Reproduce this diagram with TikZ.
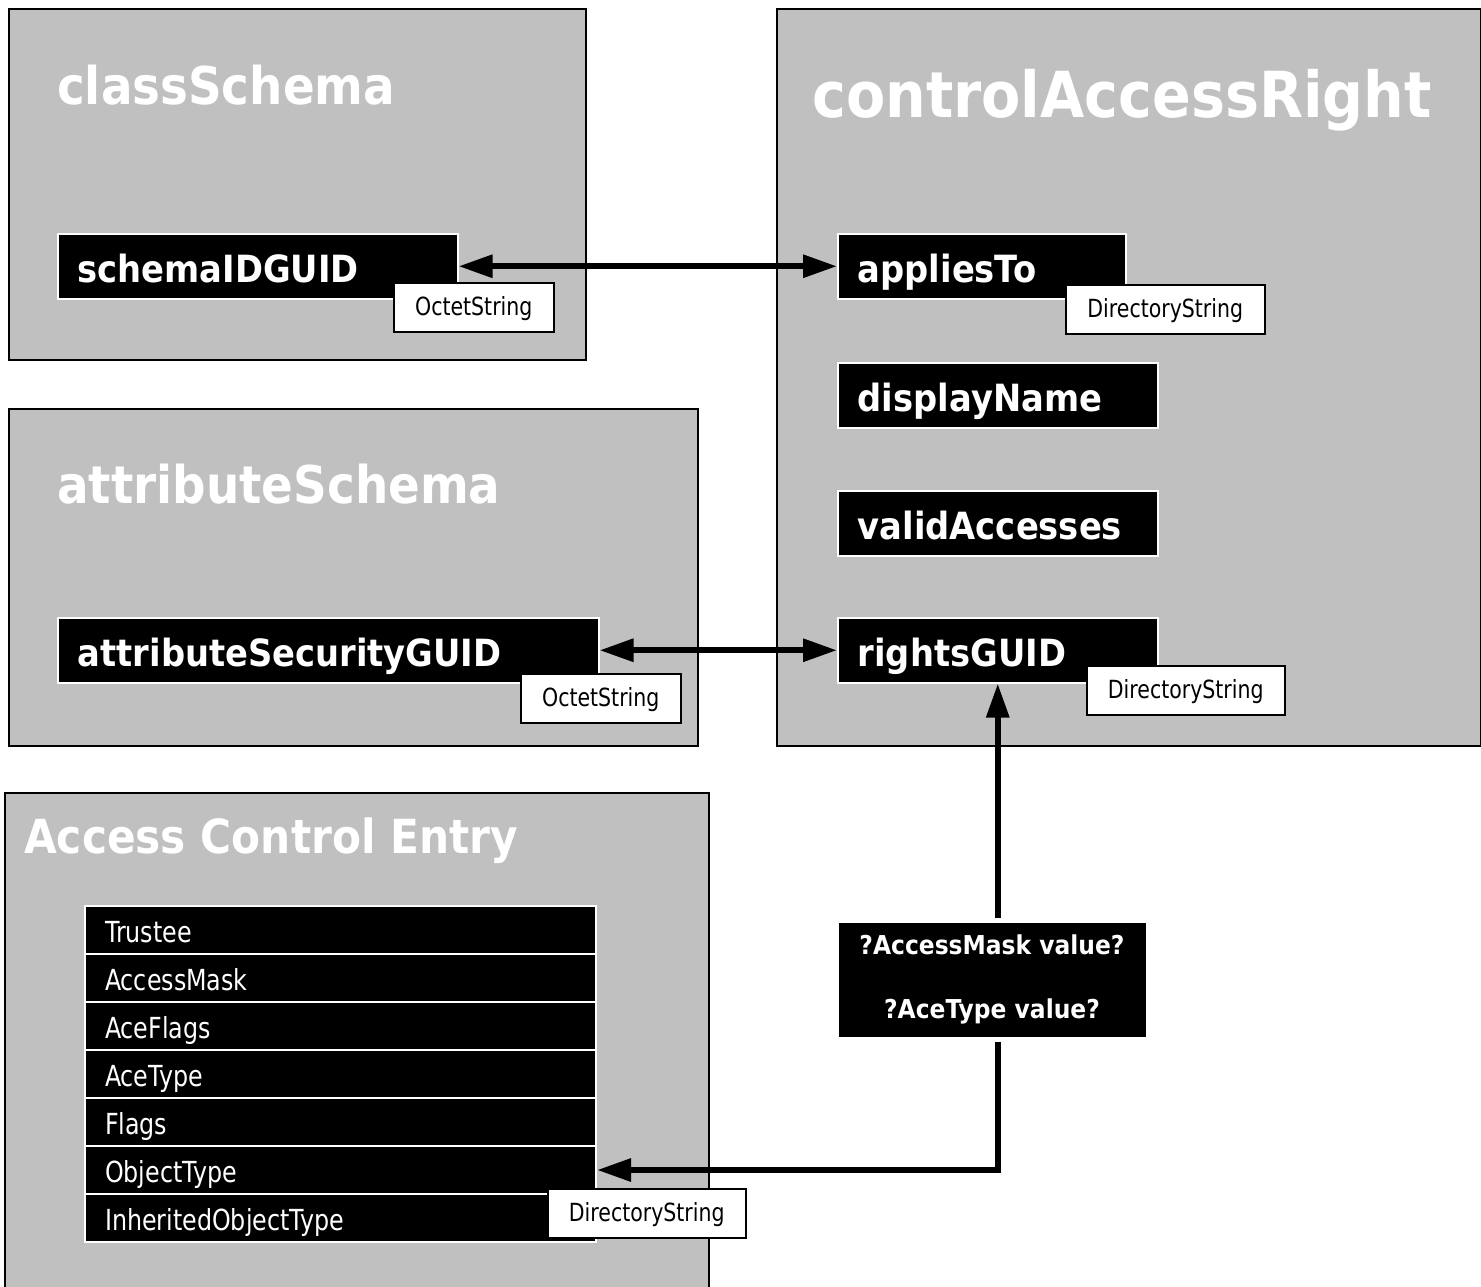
\documentclass[tikz,border=0pt]{standalone}
\usepackage{fontspec}
\setmainfont{DejaVu Sans}[FakeStretch=0.9]
\newfontfamily\tagfont{DejaVu Sans}[FakeStretch=0.82]
\usetikzlibrary{arrows.meta}
\definecolor{panelgray}{HTML}{C0C0C0}

\begin{document}
\begin{tikzpicture}[x=1pt, y=-1pt,
    panel/.style={draw=black, line width=2pt, fill=panelgray, anchor=north west, inner sep=0pt},
    title/.style={text=white, anchor=base west, inner sep=0pt, font=\bfseries\fontsize{52}{60}\selectfont},
    field/.style={draw=white, line width=1.5pt, fill=black, text=white, anchor=north west,
                  minimum height=65pt, inner xsep=20pt, inner ysep=0pt, align=left,
                  text height=41pt, text depth=8pt, font=\bfseries\fontsize{37.5}{44}\selectfont},
    tag/.style={draw=black, line width=1.5pt, fill=white, anchor=north west, minimum height=49pt,
                inner sep=0pt, text height=21pt, text depth=5pt, font=\tagfont\fontsize{25}{30}\selectfont},
    row/.style={draw=white, line width=2pt, fill=black, text=white, anchor=north west,
                minimum height=48pt, text width=471pt, inner xsep=20pt, inner ysep=0pt, align=left,
                text height=29pt, text depth=4pt, font=\tagfont\fontsize{29}{34}\selectfont},
    link/.style={line width=6pt, -{Triangle[length=34pt,width=22pt]}},
    both/.style={line width=6pt, {Triangle[length=34pt,width=22pt]}-{Triangle[length=34pt,width=22pt]}}]

    \useasboundingbox (0,0) rectangle (1481,1286);

    % panels
    \node[panel, minimum width=577pt, minimum height=351pt] (classPanel) at (8,8) {};
    \node[panel, minimum width=704pt, minimum height=737pt] (carPanel)   at (776,8) {};
    \node[panel, minimum width=689pt, minimum height=337pt] (attrPanel)  at (8,408) {};
    \node[panel, minimum width=704pt, minimum height=520pt] (acePanel)   at (4,792) {};

    \node[title] (classTitle) at (57,104) {classSchema};
    \node[title, font=\bfseries\fontsize{63.5}{70}\selectfont] (carTitle) at (812,117) {controlAccessRight};
    \node[title] (attrTitle)  at (57,503) {attributeSchema};
    \node[title, font=\bfseries\fontsize{47}{54}\selectfont] (aceTitle) at (24,853) {Access Control Entry};

    % attributes
    \node[field, text width=360pt] (schemaIDGUID) at (57,233)  {schemaIDGUID};
    \node[field, text width=248pt] (appliesTo)    at (837,233) {appliesTo};
    \node[field, text width=280pt] (displayName)  at (837,362) {displayName};
    \node[field, text width=280pt] (validAccesses) at (837,490) {validAccesses};
    \node[field, text width=280pt] (rightsGUID)   at (837,617) {rightsGUID};
    \node[field, text width=501pt] (attrGUID)     at (57,617)  {attributeSecurityGUID};

    \foreach \name [count=\i from 0] in {Trustee, AccessMask, AceFlags, AceType,
        Flags, ObjectType, InheritedObjectType}
      \node[row] (\name) at (84,905+48*\i) {\name};

    % syntaxes
    \node[tag, minimum width=160pt] (classOctet) at (393,282)  {OctetString};
    \node[tag, minimum width=199pt] (appliesDir) at (1065,284) {DirectoryString};
    \node[tag, minimum width=198pt] (rightsDir)  at (1086,665) {DirectoryString};
    \node[tag, minimum width=160pt] (attrOctet)  at (520,673)  {OctetString};
    \node[tag, minimum width=198pt] (aceDir)     at (547,1188) {DirectoryString};

    \node[draw=white, line width=1pt, fill=black, text=white, minimum width=308pt, minimum height=115pt,
          align=center, font=\bfseries\fontsize{26}{64}\selectfont] (maskBox) at (992,979.5)
          {\raisebox{-3pt}{?AccessMask value?}\\\raisebox{-3pt}{?AceType value?}};

    \draw[both] (schemaIDGUID.east) -- (appliesTo.west);
    \draw[both] (attrGUID.east) -- (rightsGUID.west);
    \draw[link, shorten <=4pt] (maskBox.north -| rightsGUID.south) -- (rightsGUID.south);
    \draw[link, shorten <=4pt] (maskBox.south -| rightsGUID.south) |- (ObjectType.east);

\end{tikzpicture}
\end{document}
